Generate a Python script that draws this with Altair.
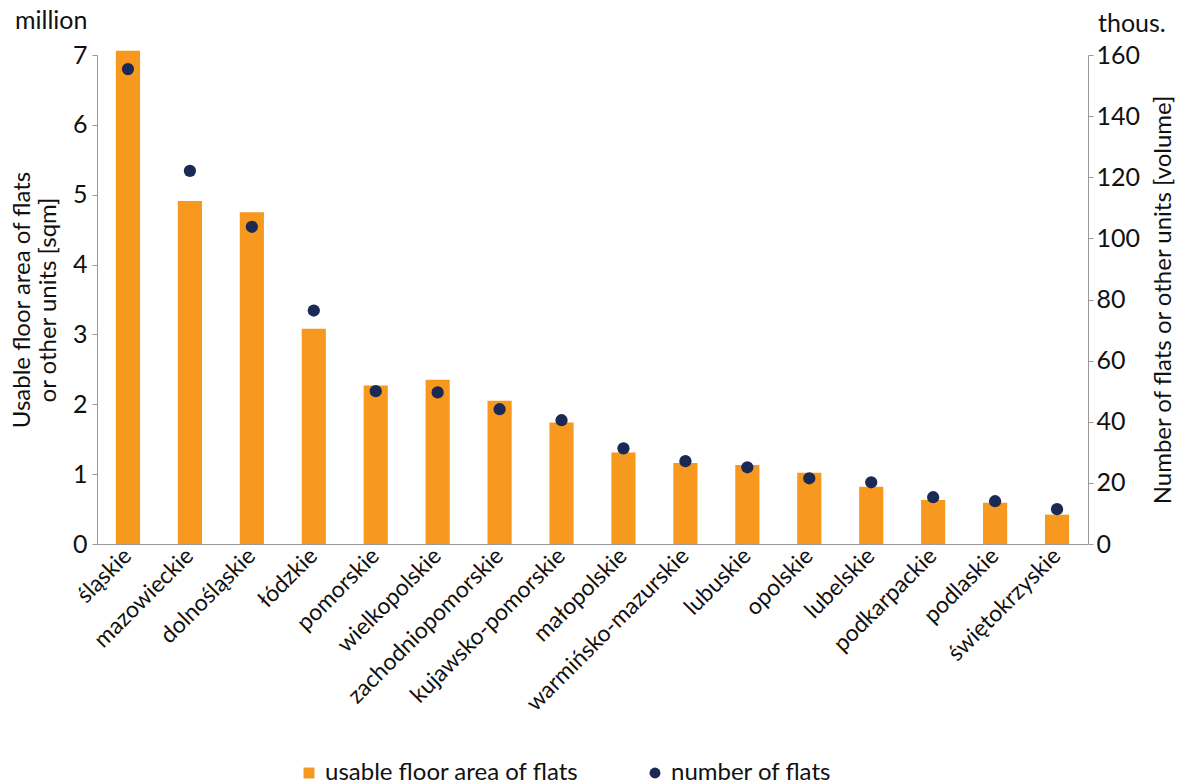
import altair as alt
import pandas as pd

categories = ["śląskie", "mazowieckie", "dolnośląskie", "łódzkie", "pomorskie",
              "wielkopolskie", "zachodniopomorskie", "kujawsko-pomorskie",
              "małopolskie", "warmińsko-mazurskie", "lubuskie", "opolskie",
              "lubelskie", "podkarpackie", "podlaskie", "świętokrzyskie"]
area_million = [7.06, 4.91, 4.75, 3.08, 2.27, 2.35, 2.05, 1.74,
                1.31, 1.16, 1.13, 1.02, 0.82, 0.63, 0.59, 0.42]
flats_thous = [155.4, 122.1, 103.8, 76.4, 50.0, 49.6, 44.1, 40.5,
               31.3, 27.1, 25.1, 21.5, 20.2, 15.3, 14.0, 11.4]
series_names = ["usable floor area of flats", "number of flats"]
colors = ["#F7981F", "#1B2955"]

rows = []
for c, a, f in zip(categories, area_million, flats_thous):
    rows.append({"region": c, "value": a, "series": series_names[0]})
    rows.append({"region": c, "value": f, "series": series_names[1]})
df = pd.DataFrame(rows)

FONT = "Lato"
AXIS_GREY = "#9a9a9a"
TXT = "#111111"

xscale = alt.Scale(paddingInner=0.61, paddingOuter=0.305)
xenc = alt.X("region:N", sort=categories, scale=xscale,
             axis=alt.Axis(title=None, labelAngle=-45, labelAlign="right",
                           labelBaseline="middle", labelFontSize=23,
                           labelPadding=8, ticks=False, domainColor=AXIS_GREY,
                           labelColor=TXT, labelFont=FONT, labelLimit=0))

legend_opts = dict(title=None, orient="none", direction="horizontal",
                   legendX=200, legendY=706, labelFontSize=24, labelFont=FONT,
                   labelColor=TXT, symbolSize=120, columnPadding=64,
                   symbolOpacity=1, labelLimit=0)
color_enc = alt.Color("series:N",
                      scale=alt.Scale(domain=series_names, range=colors),
                      legend=alt.Legend(**legend_opts))
shape_enc = alt.Shape("series:N",
                      scale=alt.Scale(domain=series_names, range=["square", "circle"]),
                      legend=alt.Legend(**legend_opts))

bars = alt.Chart(df).transform_filter(
    alt.datum.series == series_names[0]
).mark_bar(opacity=1).encode(
    x=xenc,
    y=alt.Y("value:Q", scale=alt.Scale(domain=[0, 7]),
            axis=alt.Axis(title=["Usable floor area of flats", "or other units [sqm]"],
                          values=[0, 1, 2, 3, 4, 5, 6, 7], grid=False,
                          labelFontSize=25, labelFont=FONT, labelColor=TXT,
                          titleFontSize=24, titleFont=FONT, titleFontWeight="normal",
                          titleColor=TXT, titlePadding=12, titleLineHeight=26,
                          domainColor=AXIS_GREY, tickColor=AXIS_GREY, tickSize=5,
                          labelPadding=5)),
    color=color_enc,
    shape=shape_enc,
)

points = alt.Chart(df).transform_filter(
    alt.datum.series == series_names[1]
).mark_point(filled=True, size=150, opacity=1).encode(
    x=xenc,
    y=alt.Y("value:Q", scale=alt.Scale(domain=[0, 160]),
            axis=alt.Axis(title="Number of flats or other units [volume]",
                          orient="right", titleAngle=270, titleBaseline="top",
                          values=[0, 20, 40, 60, 80, 100, 120, 140, 160], grid=False,
                          labelFontSize=25, labelFont=FONT, labelColor=TXT,
                          titleFontSize=24, titleFont=FONT, titleFontWeight="normal",
                          titleColor=TXT, titlePadding=12,
                          domainColor=AXIS_GREY, tickColor=AXIS_GREY, tickSize=5,
                          labelPadding=3)),
    color=color_enc,
    shape=shape_enc,
)

unit_left = alt.Chart(pd.DataFrame({"t": ["million"]})).mark_text(
    font=FONT, fontSize=25, color=TXT, align="left", baseline="middle"
).encode(text="t:N", x=alt.value(-82), y=alt.value(-34))

unit_right = alt.Chart(pd.DataFrame({"t": ["thous."]})).mark_text(
    font=FONT, fontSize=25, color=TXT, align="left", baseline="middle"
).encode(text="t:N", x=alt.value(1001), y=alt.value(-31))

chart = alt.layer(bars, points, unit_left, unit_right).resolve_scale(
    y="independent"
).properties(
    width=991, height=489,
    autosize=alt.AutoSizeParams(type="none"),
    padding={"left": 97, "top": 55, "right": 98, "bottom": 240},
    background="white",
).configure_view(stroke=None)

chart.save("out.html", embed_options={"renderer": "svg", "actions": False})
